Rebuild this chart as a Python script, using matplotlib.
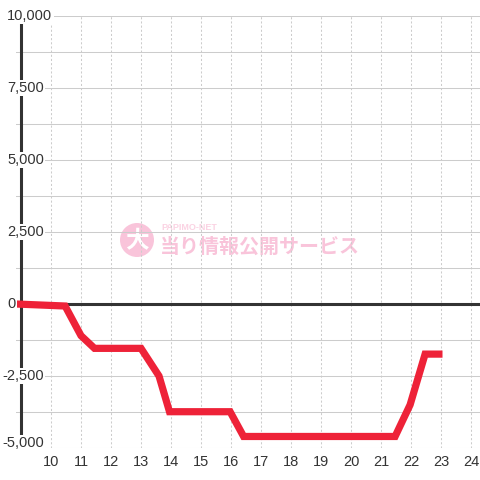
import matplotlib
matplotlib.use("Agg")
import matplotlib.pyplot as plt
import matplotlib.transforms as mtransforms
from matplotlib.patches import Circle

# hours of the day vs. medal difference
hours = [8.83, 10.47, 11.0, 11.45, 13.0, 13.6, 13.95, 15.97, 16.42, 21.47, 21.97, 22.47, 23.05]
values = [0, -70, -1100, -1540, -1540, -2500, -3740, -3740, -4600, -4600, -3500, -1740, -1740]

x_ticks = list(range(10, 25))
y_grid = [-5000 + 1250 * i for i in range(13)]
y_labels = [10000, 7500, 5000, 2500, 0, -2500, -5000]

plt.rcParams['font.family'] = ['Liberation Sans', 'DejaVu Sans']

fig = plt.figure(figsize=(4.8, 4.8), dpi=100)
fig.patch.set_facecolor('white')
ax = fig.add_axes([16 / 480, 32 / 480, 464 / 480, 432 / 480])
ax.set_xlim(8.833, 24.3)
ax.set_ylim(-5000, 10000)
ax.set_axisbelow(True)

for s in ax.spines.values():
    s.set_visible(False)

# grid
ax.set_yticks(y_grid)
ax.set_yticklabels([])
ax.tick_params(axis='y', length=0)
ax.set_xticks(x_ticks)
ax.set_xticklabels([str(h) for h in x_ticks], fontsize=10.5, color='#333')
ax.tick_params(axis='x', length=0, pad=5)
ax.grid(axis='y', color='#cccccc', lw=0.75)
ax.grid(axis='x', color='#cccccc', lw=0.75, linestyle=(0, (2, 2)))

# watermark
wm = '#f9c4da'
circ = Circle((1.37, 2.40), 0.17, transform=fig.dpi_scale_trans,
              facecolor=wm, edgecolor='none', zorder=0.1)
ax.add_patch(circ)
circ.set_clip_on(False)
ax.text(137 / 480, 1 - 241 / 480, '大', transform=fig.transFigure, ha='center', va='center',
        fontsize=17, fontweight='bold', color='white', family=['Noto Sans CJK JP', 'DejaVu Sans'], zorder=0.2)
ax.text(160 / 480, 1 - 246 / 480, '当り情報公開サービス', transform=fig.transFigure, ha='left', va='center',
        fontsize=14.4, fontweight='bold', color=wm, family=['Noto Sans CJK JP', 'DejaVu Sans'], zorder=0.1)
ax.text(161 / 480, 1 - 227 / 480, 'PAPIMO-NET', transform=fig.transFigure, ha='left', va='center',
        fontsize=6.5, fontweight='bold', color='#fbd3e3', zorder=0.1)

# left axis line and zero line
ax.axvline(9, color='#333333', lw=2.2, zorder=2)
ax.axhline(0, color='#333333', lw=2.2, zorder=2)

# data line
ax.plot(hours, values, color='#ee2238', lw=5.2, solid_joinstyle='miter',
        solid_capstyle='butt', zorder=3)

# y labels with white background
trans = mtransforms.blended_transform_factory(fig.transFigure, ax.transData)
for v in y_labels:
    xp = 7 if v >= 0 else 2
    t = trans
    if v == -5000:
        t = trans + mtransforms.ScaledTranslation(0, 5 / 100, fig.dpi_scale_trans)
    ax.text(xp / 480, v, f'{v:,}', transform=t, ha='left', va='center',
            fontsize=10.5, color='#333', zorder=4,
            bbox=dict(facecolor='white', edgecolor='none', pad=1))

fig.savefig('out.png', dpi=100, facecolor='white')
